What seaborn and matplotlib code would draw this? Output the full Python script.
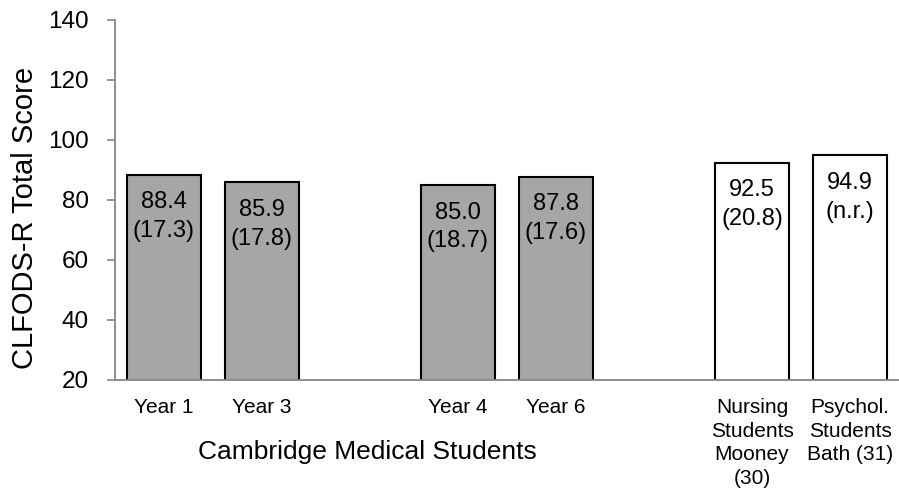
import numpy as np
import pandas as pd
import matplotlib
matplotlib.use('Agg')
import matplotlib.pyplot as plt
import seaborn as sns

sns.set_style('white')
plt.rcParams['font.family'] = ['Liberation Sans', 'DejaVu Sans']
plt.rcParams['text.color'] = 'black'
plt.rcParams['xtick.color'] = 'black'
plt.rcParams['ytick.color'] = 'black'

# chart data
groups = ['Year 1', 'Year 3', 'Year 4', 'Year 6',
          'Nursing\nStudents\nMooney\n(30)', 'Psychol.\nStudents\nBath (31)']
means = [88.4, 85.9, 85.0, 87.8, 92.5, 94.9]
sds = ['(17.3)', '(17.8)', '(18.7)', '(17.6)', '(20.8)', '(n.r.)']
fills = ['#A6A6A6', '#A6A6A6', '#A6A6A6', '#A6A6A6', '#FFFFFF', '#FFFFFF']
# empty slots between the three blocks
order = ['Year 1', 'Year 3', ' ', 'Year 4', 'Year 6', '  ',
         groups[4], groups[5]]
y_ticks = [20, 40, 60, 80, 100, 120, 140]

df = pd.DataFrame({'group': groups, 'mean': means})
palette = dict(zip(groups, fills))

fig = plt.figure(figsize=(8.99, 4.96), dpi=100)
ax = fig.add_axes([115 / 899, 116 / 496, 1 - 115 / 899, 360 / 496])

sns.barplot(data=df, x='group', y='mean', hue='group', order=order,
            palette=palette, legend=False, width=0.75,
            edgecolor='black', linewidth=1.5, ax=ax)

ax.set_xlim(-0.5, 7.5)
ax.set_ylim(20, 140)
ax.set_yticks(y_ticks)
ax.set_xlabel('')
ax.set_ylabel('')

# inside-end labels: mean and (SD)
for g, m, s in zip(groups, means, sds):
    xpos = order.index(g)
    ax.annotate(f'{m:.1f}\n{s}', xy=(xpos, m), xytext=(0, -12),
                textcoords='offset points', ha='center', va='top',
                fontsize=17, color='black', linespacing=1.4)

for side in ['top', 'right']:
    ax.spines[side].set_visible(False)
for side in ['left', 'bottom']:
    ax.spines[side].set_color('#868686')
    ax.spines[side].set_linewidth(1.3)
    ax.spines[side].set_zorder(5)

ax.tick_params(axis='y', which='major', direction='out', length=6, width=1.2,
               color='#868686', labelcolor='black', labelsize=17.5, pad=13,
               left=True)
ax.tick_params(axis='x', length=0, labelsize=15, pad=13, labelcolor='black')
for lbl in ax.get_xticklabels():
    lbl.set_multialignment('center')
    lbl.set_linespacing(1.3)

fig.text(25 / 899, 1 - 218 / 496, 'CLFODS-R Total Score', rotation=90,
         ha='center', va='center', fontsize=21)
fig.text(367 / 899, 1 - 452 / 496, 'Cambridge Medical Students',
         ha='center', va='center', fontsize=19)

fig.savefig('out.png', dpi=100)
